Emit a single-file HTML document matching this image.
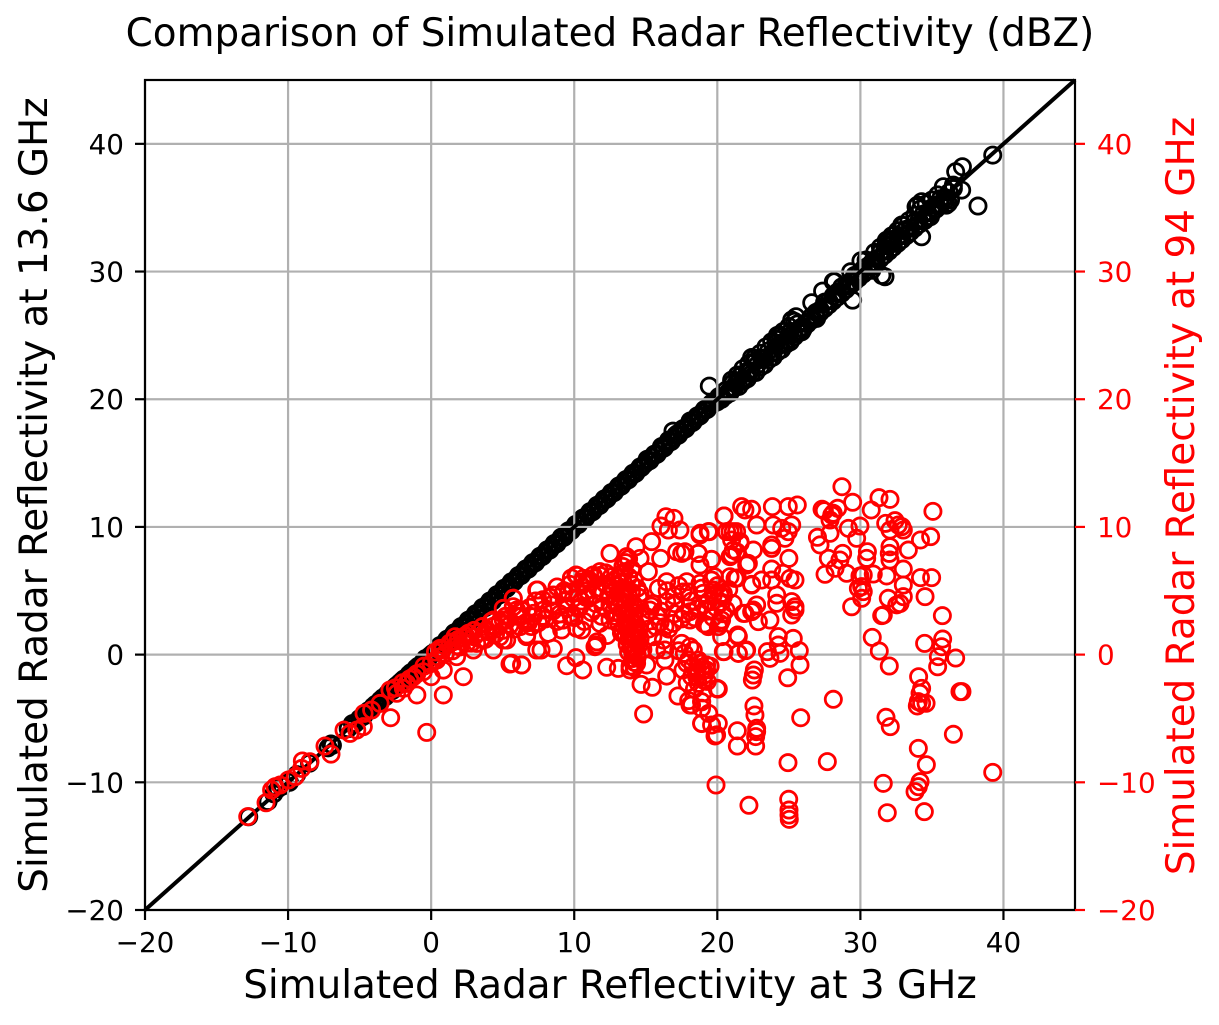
<!DOCTYPE html>
<html lang="en">
<head>
<meta charset="utf-8">
<title>Comparison of Simulated Radar Reflectivity (dBZ)</title>
<style>
html,body{margin:0;padding:0;background:#fff;}
svg{display:block;}
text{font-family:"DejaVu Sans","Liberation Sans",sans-serif;}
</style>
</head>
<body>
<svg id="chart" xmlns="http://www.w3.org/2000/svg" width="1219" height="1025" viewBox="0 0 1219 1025">
  <rect x="0" y="0" width="1219" height="1025" fill="#fff"/>
  <g id="black-series"></g>
  <g id="grid"></g>
  <g id="identity"></g>
  <g id="red-series"></g>
  <rect x="145" y="80" width="930" height="830" fill="none" stroke="#000" stroke-width="2.2"/>
  <g id="ticks"></g>
  <text x="610" y="46" font-size="38.9" text-anchor="middle" fill="#000">Comparison of Simulated Radar Reflectivity (dBZ)</text>
  <text x="610" y="998" font-size="38.9" text-anchor="middle" fill="#000">Simulated Radar Reflectivity at 3 GHz</text>
  <text transform="translate(47,495) rotate(-90)" font-size="38.9" text-anchor="middle" fill="#000">Simulated Radar Reflectivity at 13.6 GHz</text>
  <text transform="translate(1194,496) rotate(-90)" font-size="38.9" text-anchor="middle" fill="#f00">Simulated Radar Reflectivity at 94 GHz</text>
</svg>
<script>
const xTicks = [-20, -10, 0, 10, 20, 30, 40];
const yTicks = [-20, -10, 0, 10, 20, 30, 40];
const axisDomain = [-20, 45];

const blackX = [
-12.75,-11.4,-11.0,-10.7,-10.4,-9.9,-9.4,-8.5,-7.2,-7.0,-6.9,-5.8,-5.5,-5.3,
-5.0,-4.7,-4.4,-4.2,-3.9,-3.7,-3.4,-3.2,-2.9,-2.7,
-2.4,-2.2,-1.9,-1.7,-1.4,-1.2,-0.9,-0.7,-0.4,-0.2,
0.1,0.3,0.6,0.8,1.1,1.3,1.6,1.8,2.1,2.3,
2.6,2.8,3.1,3.3,3.6,3.8,4.1,4.3,4.6,4.8,
5.1,5.3,5.6,5.8,6.1,6.3,6.6,6.8,7.1,7.3,
7.6,7.8,8.1,8.3,8.6,8.8,9.1,9.3,9.6,9.8,
10.1,10.3,10.6,10.8,11.1,11.3,11.6,11.8,12.1,12.3,
12.6,12.8,13.1,13.3,13.6,13.8,14.1,14.3,14.6,14.8,
15.1,15.3,15.6,15.8,16.1,16.3,16.6,16.8,17.1,17.3,
17.6,17.8,18.1,18.3,18.6,18.8,19.1,19.3,19.6,19.8,
20.1,20.3,20.6,20.8,21.1,21.3,21.6,21.8,22.1,22.3,
22.6,22.8,23.1,23.3,23.6,23.8,24.1,24.3,24.6,24.8,
25.1,25.3,25.6,25.8,26.2,26.6,26.9,27.2,27.5,27.8,
28.1,28.4,28.7,29.0,29.3,29.6,29.9,30.2,30.5,30.8,
31.1,31.4,31.7,32.0,32.3,32.6,32.9,33.2,33.5,33.8,
34.1,34.4,34.7,35.0,35.3,35.6,35.9,36.2,36.5,
19.44,22.4,22.7,24.1,24.4,24.7,25.5,25.9,25.2,26.6,26.94,27.36,28.11,29.32,29.46,30.04,30.4,31.72,31.84,32.0,32.2,
32.89,33.1,33.89,34.28,34.28,34.5,35.8,36.15,36.5,36.66,37.08,37.13,38.22,39.25,
16.9,17.2,28.2,28.4,30.8,31.5,34.0,34.9,36.0,36.3,
-4.85,-4.55,-4.3,-4.05,-3.8,-3.55,-3.3,-3.05,-2.8,-2.55,-2.3,-2.05,-1.8,-1.55,-1.3,-1.05,-0.8,-0.55,-0.3,-0.05,
0.2,0.45,0.7,0.95,1.2,1.45,1.7,1.95,2.2,2.45,2.7,2.95,3.2,3.45,3.7,3.95,4.2,4.45,4.7,4.95,
5.2,5.45,5.7,5.95,6.2,6.45,6.7,6.95,7.2,7.45,7.7,7.95,8.2,8.45,8.7,8.95,9.2,9.45,9.7,9.95,
10.2,10.45,10.7,10.95,11.2,11.45,11.7,11.95,12.2,12.45,12.7,12.95,13.2,13.45,13.7,13.95,14.2,14.45,14.7,14.95,
15.2,15.45,15.7,15.95,16.2,16.45,16.7,16.95,17.2,17.45,17.7,17.95,18.2,18.45,18.7,18.95,19.2,19.45,19.7,19.95,
20.0,20.3,20.6,20.9,21.2,21.5,21.8,22.1,22.4,22.7,23.0,23.3,23.6,23.9,24.2,24.5,24.8,25.1,25.4,25.7,
26.0,26.3,26.6,26.9,27.2,27.5,27.8,28.1,28.4,28.7,29.0,29.3,29.6,29.9,30.2,30.5,30.8,31.1,31.4,31.7,
32.0,32.3,32.6,32.9,33.2,33.5,33.8,34.1,34.4,34.7,35.0,35.3,35.6,35.9,
21.0,21.4,21.8,22.2,22.6,23.0,23.4,23.8,24.2,24.6,25.0,25.4,31.0,31.4,31.8,32.2,32.6,33.0,33.4,33.8,34.2,34.6,35.0,35.4
];
const blackY = [
-12.7,-11.5,-10.9,-10.5,-10.3,-10.0,-9.4,-8.5,-7.3,-7.0,-7.1,-5.8,-5.4,-5.4,
-5.0,-4.8,-4.4,-4.3,-3.9,-3.8,-3.4,-3.3,-2.9,-2.8,
-2.4,-2.2,-1.9,-1.8,-1.4,-1.3,-0.9,-0.8,-0.3,-0.3,
0.1,0.2,0.7,0.7,1.2,1.2,1.7,1.7,2.2,2.2,
2.7,2.7,3.2,3.2,3.7,3.7,4.2,4.2,4.7,4.7,
5.2,5.2,5.7,5.7,6.2,6.2,6.7,6.7,7.2,7.2,
7.7,7.7,8.2,8.2,8.7,8.7,9.2,9.2,9.7,9.7,
10.2,10.2,10.7,10.7,11.2,11.2,11.7,11.7,12.2,12.2,
12.7,12.7,13.2,13.2,13.7,13.7,14.2,14.2,14.7,14.8,
15.3,15.2,15.7,15.7,16.3,16.2,16.8,16.7,17.2,17.2,
17.7,17.7,18.3,18.2,18.7,18.7,19.2,19.2,19.7,19.7,
20.2,20.2,20.7,20.6,21.3,21.2,21.8,21.6,22.2,22.2,
22.9,22.7,23.2,23.2,23.8,23.6,24.4,24.2,24.9,24.6,
25.3,25.1,25.9,25.6,26.0,26.5,26.8,27.0,27.6,27.7,
28.1,28.3,28.8,28.9,29.2,29.7,29.8,30.2,30.4,30.7,
31.0,31.5,31.6,32.1,32.2,32.7,32.8,33.3,33.4,33.9,
34.0,34.5,34.6,35.0,35.2,35.7,35.8,36.2,36.5,
21.03,23.27,23.0,24.7,25.0,24.4,26.46,25.28,26.2,27.56,26.33,28.47,29.2,29.98,27.76,30.84,30.9,29.59,32.46,32.5,32.4,
33.64,33.2,35.07,35.47,32.72,34.0,36.64,35.34,36.77,37.82,36.38,38.21,35.13,39.12,
17.5,17.3,29.2,28.4,30.1,29.7,35.2,34.3,35.2,35.6,
-4.9,-4.55,-4.35,-4.05,-3.85,-3.55,-3.35,-3.05,-2.85,-2.55,-2.35,-2.05,-1.85,-1.55,-1.35,-1.05,-0.85,-0.55,-0.35,-0.05,
0.15,0.45,0.65,0.95,1.15,1.45,1.65,1.95,2.15,2.45,2.65,2.95,3.15,3.45,3.65,3.95,4.15,4.45,4.65,4.95,
5.15,5.45,5.65,5.95,6.15,6.45,6.65,6.95,7.15,7.45,7.65,7.95,8.15,8.45,8.65,8.95,9.15,9.45,9.65,9.95,
10.15,10.45,10.65,10.95,11.15,11.45,11.65,11.95,12.15,12.45,12.65,12.95,13.15,13.45,13.65,13.95,14.15,14.45,14.65,14.95,
15.15,15.45,15.65,15.95,16.15,16.45,16.65,16.95,17.15,17.45,17.65,17.95,18.15,18.45,18.65,18.95,19.15,19.45,19.65,19.95,
19.8,20.0,20.3,20.5,20.9,21.0,21.4,21.6,22.0,22.1,22.5,22.7,23.1,23.3,23.7,23.9,24.3,24.5,24.9,25.2,
25.5,25.9,26.2,26.5,26.8,27.1,27.4,27.7,28.0,28.3,28.6,28.9,29.2,29.5,29.8,30.1,30.4,30.7,31.0,31.3,
31.6,31.9,32.2,32.5,32.8,33.1,33.4,33.7,34.0,34.3,34.6,34.9,35.2,35.5,
21.5,21.9,22.4,22.8,23.2,23.6,24.1,24.5,25.0,25.3,25.7,26.1,31.5,31.9,32.4,32.8,33.2,33.6,34.0,34.4,34.9,35.3,35.6,36.0
];

const redX = [
-12.82,-11.54,-11.15,-10.91,-10.56,-9.98,-9.5,-9.0,-9.05,-8.47,-7.42,-7.0,-6.09,-5.67,-5.2,-4.74,-4.69,-4.16,-3.57,-2.83,
-2.88,-2.41,-1.94,-1.0,-1.24,-0.31,0.0,0.85,2.25,0.62,0.85,1.67,2.6,2.95,4.35,5.51,6.33,5.74,5.04,7.38,
3.88,5.28,6.68,7.38,5.98,1.78,0.39,-0.55,-1.71,3.18,4.35,7.14,
-2.5,-2.0,-1.5,-1.0,-0.5,0.0,0.5,1.0,1.5,2.0,2.5,3.0,3.5,4.0,4.5,5.0,5.5,6.0,6.6,7.0,
7.5,8.0,8.5,9.0,9.5,7.8,8.4,9.3,6.9,6.3,5.2,4.8,4.2,3.6,3.0,2.4,1.9,1.5,
10.5,11.0,11.5,12.0,12.4,12.8,12.6,12.2,11.6,10.9,10.3,11.2,11.9,12.7,
5.63,6.32,7.68,8.54,9.47,10.12,10.59,12.27,13.08,11.57,11.45,13.9,15.06,14.36,16.34,16.34,16.23,15.76,14.36,
12.5,14.32,15.41,13.66,14.6,16.04,15.18,16.41,16.97,16.06,17.39,16.58,18.79,19.44,20.47,17.16,17.74,17.51,18.67,19.6,18.79,
20.89,21.35,21.12,21.59,20.89,22.05,10.12,10.63,11.8,11.33,11.1,7.44,5.74,5.74,8.54,9.24,9.94,16.46,15.88,17.86,18.79,19.72,20.42,
18.09,18.09,19.25,20.19,21.47,20.42,21.47,22.05,21.82,22.52,22.4,15.29,16.46,16.34,16.93,17.51,18.09,17.86,18.79,19.25,18.21,18.67,
5.04,5.04,6.67,8.19,9.12,10.17,10.52,11.8,7.14,6.21,7.84,10.4,12.5,
14.85,14.67,15.46,16.46,17.25,18.09,18.91,18.91,20.0,
16.5,17.0,17.6,18.2,18.6,19.0,19.4,19.9,20.3,20.6,15.5,15.8,16.0,15.2,15.5,17.0,17.5,
13.0,13.2,13.4,13.3,13.5,13.6,13.4,13.7,13.6,13.8,13.7,13.9,13.8,14.0,14.0,14.1,14.1,14.2,14.1,14.2,
14.0,14.1,13.9,13.9,13.8,13.6,13.4,13.2,13.3,13.1,13.5,13.6,13.7,13.8,14.3,14.3,14.4,14.4,14.3,14.2,
14.1,14.0,14.0,13.8,13.5,13.9,14.2,14.5,14.4,14.6,
28.71,29.46,31.3,32.07,30.76,35.07,27.32,27.48,28.41,28.0,28.1,27.88,31.77,32.42,32.65,32.9,33.0,32.07,29.97,29.16,
29.74,27.88,27.0,27.18,34.2,34.91,33.35,32.07,32.02,32.07,30.49,30.44,28.76,27.76,28.57,28.23,27.53,29.04,29.97,30.2,
30.9,31.84,33.0,34.2,34.98,33.0,33.0,32.77,32.54,34.52,31.95,30.09,30.2,29.86,30.09,29.39,31.49,31.6,35.73,30.83,
31.32,32.02,34.49,35.75,35.68,35.45,36.66,35.4,34.07,
21.7,21.93,22.4,23.85,24.96,25.59,20.47,22.75,23.91,24.5,25.2,24.96,24.73,18.79,19.37,20.65,21.12,21.0,21.6,22.52,
23.8,23.8,21.0,21.35,25.0,19.6,18.67,22.17,21.24,20.89,23.8,24.6,25.08,25.43,23.1,23.8,22.4,19.6,20.19,19.72,
20.42,19.02,24.15,24.15,22.75,22.4,21.93,22.87,23.68,25.2,25.43,25.43,25.2,19.37,20.07,20.3,20.3,21.42,24.26,25.31,
20.47,21.47,22.0,23.5,23.68,24.26,24.38,25.73,25.78,24.92,22.59,22.52,22.45,20.0,28.11,18.67,19.02,19.25,18.56,19.02,18.32,
37.1,36.96,25.83,34.28,34.17,34.05,34.59,34.28,33.98,31.79,32.09,36.5,34.05,34.61,39.25,27.69,24.94,34.17,34.05,33.82,
31.6,31.88,34.47,19.91,22.21,24.99,25.01,25.01,25.03,22.56,22.63,22.75,22.75,22.68,22.68,21.4,21.4,20.07,18.9,19.6,
19.95,19.84,20.07,18.9,18.9,18.2,
0.3,0.8,1.3,1.8,2.3,2.8,3.3,3.8,4.3,4.8,5.3,5.8,6.3,6.8,7.3,7.8,8.3,8.8,9.3,9.8,
9.8,10.2,10.6,11.0,11.4,11.8,12.2,12.6,9.6,10.8,11.4,12.0,12.5,9.2,10.0,10.7,11.6,12.3,8.8,9.7,
12.8,12.9,13.1,13.3,14.5,14.6,14.7,14.5,14.6,14.8,12.9,13.0,13.2,13.4,13.6,13.8,14.0,14.2,14.4,14.6,
15.0,15.4,15.7,16.1,16.6,17.0,17.3,17.7,18.0,18.4,18.9,19.3,19.7,20.0,20.4,20.8,21.1,21.4,19.1,19.8,
17.3,17.7,18.0,18.3,18.6,18.9,19.1,19.3,19.5,18.4,18.0,17.9,17.6,19.0,19.4
];
const redY = [
-12.69,-11.6,-10.6,-10.35,-10.21,-9.82,-9.56,-8.33,-8.91,-8.39,-7.16,-7.79,-5.91,-6.17,-5.91,-5.64,-4.6,-4.34,-3.82,-4.94,
-2.77,-3.03,-2.64,-3.16,-1.73,-6.09,-1.73,-3.16,-1.73,0.49,-1.21,1.4,1.67,0.36,0.36,-0.74,-0.81,4.41,3.62,5.06,
1.93,1.14,1.54,0.36,3.49,-0.16,-0.42,-1.34,-2.25,0.88,2.71,2.97,
-2.6,-2.2,-1.9,-1.5,-0.9,-0.7,-0.2,0.1,0.3,0.6,0.9,1.4,1.2,1.8,1.6,1.9,2.3,3.0,2.5,2.2,
2.5,2.8,3.4,3.2,3.6,4.3,3.9,4.2,3.7,3.5,3.0,2.6,2.6,2.2,1.9,1.5,1.2,1.0,
4.2,4.4,4.0,3.8,4.6,4.2,5.2,5.5,5.2,5.0,3.6,3.3,3.0,3.3,
-0.68,-0.81,0.36,0.49,-0.87,-0.24,-1.2,-0.99,-1.08,0.75,0.62,-1.2,-0.81,-0.68,-0.42,0.36,1.14,0.36,-0.16,
7.93,8.45,8.85,7.67,7.54,7.54,6.5,10.8,10.67,10.07,9.76,9.76,9.5,9.63,10.86,8.06,8.06,7.93,7.93,7.46,7.02,
9.63,9.63,8.19,8.85,7.67,7.02,6.24,5.97,6.5,6.24,5.71,5.06,4.41,3.75,4.67,4.8,4.41,5.71,5.19,5.71,5.58,5.06,4.54,
3.36,2.71,2.32,2.45,1.41,0.23,0.1,0.36,3.23,3.49,5.45,3.49,4.15,2.19,2.45,0.88,0.62,-0.68,-0.68,-1.2,-1.73,-2.25,
1.14,2.71,1.41,1.67,1.93,2.06,1.93,2.45,3.23,2.19,3.49,3.75,2.71,
-4.65,-2.33,-2.56,-1.68,-3.24,-3.95,-3.69,-5.4,-2.64,
5.0,4.6,4.9,4.2,3.6,4.8,4.2,3.7,4.1,3.5,4.0,3.0,2.5,2.0,1.4,3.2,2.8,
6.0,5.6,5.2,4.8,4.4,4.0,3.6,3.2,2.8,2.4,2.0,1.6,1.2,0.9,0.5,0.1,-0.3,-0.6,1.4,1.9,
2.5,3.0,3.5,4.1,4.6,5.1,5.7,4.3,3.1,3.7,2.2,1.5,0.8,0.2,1.1,0.4,-0.2,1.7,2.4,3.3,
4.0,4.9,5.5,6.1,6.5,-0.9,-1.0,0.7,0.0,1.3,
13.15,11.93,12.29,12.16,11.33,11.22,11.38,11.27,11.46,10.93,11.07,10.54,10.28,10.49,10.15,10.02,9.76,9.76,10.07,9.89,
9.11,9.5,9.19,8.59,8.98,9.24,8.19,8.45,7.93,7.41,8.06,7.54,7.93,7.54,7.41,6.76,6.29,6.37,6.16,6.24,
6.31,6.16,6.7,6.03,6.03,5.45,4.54,4.0,3.9,4.54,4.41,5.32,4.93,5.19,4.41,3.75,3.05,3.1,3.05,1.35,
0.28,-0.89,0.88,1.22,0.62,-0.16,-0.27,-0.95,-1.73,
11.59,11.33,11.38,11.59,11.59,11.72,10.86,10.15,10.15,9.89,10.15,9.63,9.11,9.37,9.63,9.63,9.63,8.98,8.72,8.19,
8.32,8.58,7.8,8.06,7.54,7.46,7.93,7.15,5.97,6.1,6.7,6.37,5.97,5.84,5.84,5.84,5.5,5.84,4.67,4.67,
4.8,3.89,4.67,4.02,3.89,3.36,3.23,2.58,2.71,4.15,3.75,3.49,3.1,2.19,2.19,2.71,1.41,1.54,1.41,1.27,
0.23,0.1,0.31,0.23,-0.29,0.75,0.1,0.31,-0.81,-1.81,-1.2,-1.6,-1.99,-2.69,-3.5,-0.42,-1.2,-0.81,-1.73,-1.99,0.36,
-2.9,-2.9,-4.94,-2.64,-3.03,-3.68,-3.81,-3.81,-4.02,-4.91,-5.64,-6.24,-7.34,-8.62,-9.22,-8.38,-8.46,-9.95,-10.34,-10.73,
-10.08,-12.38,-12.3,-10.21,-11.8,-11.33,-12.17,-12.56,-12.9,-4.02,-4.73,-5.77,-6.03,-6.42,-7.16,-5.96,-7.16,-5.38,-5.38,-5.51,
-6.29,-6.37,-2.69,-4.2,-3.68,-3.95,
0.2,0.4,0.9,0.7,1.3,0.9,1.7,1.2,2.2,1.4,2.7,2.0,3.0,2.5,4.2,3.0,4.5,2.6,5.0,3.0,
6.0,6.2,5.7,5.9,6.0,6.2,6.4,6.1,4.9,4.5,4.7,4.8,3.9,2.7,2.9,2.6,1.0,1.5,5.3,5.5,
5.0,4.0,2.5,1.7,4.5,3.6,2.8,2.0,1.2,0.4,3.0,5.4,6.3,6.9,7.2,7.5,6.7,5.8,5.2,4.8,
3.0,3.8,2.2,3.4,2.0,4.0,5.4,3.2,4.9,2.9,5.2,3.4,2.9,5.4,3.2,5.1,4.0,6.0,2.4,6.1,
0.3,0.1,-0.4,-0.9,-1.4,-1.0,-1.6,-2.1,-0.9,-2.7,-3.6,-2.2,-1.2,-3.0,-4.6
];

const SVG_NS = 'http://www.w3.org/2000/svg';
function xScale(v) { return 145 + (v - axisDomain[0]) / (axisDomain[1] - axisDomain[0]) * 930; }
function yScale(v) { return 910 - (v - axisDomain[0]) / (axisDomain[1] - axisDomain[0]) * 830; }
function fmt(v) { return v < 0 ? '\u2212' + Math.abs(v) : String(v); }

function drawCircles(parentId, xs, ys, color, name) {
  const parent = document.getElementById(parentId);
  const n = Math.min(xs.length, ys.length);
  for (let i = 0; i < n; i++) {
    const c = document.createElementNS(SVG_NS, 'circle');
    c.setAttribute('cx', xScale(xs[i]).toFixed(2));
    c.setAttribute('cy', yScale(ys[i]).toFixed(2));
    c.setAttribute('r', '8.1');
    c.setAttribute('fill', 'none');
    c.setAttribute('stroke', color);
    c.setAttribute('stroke-width', '2.8');
    
    
    parent.appendChild(c);
  }
}

function drawLine(parent, x1, y1, x2, y2, color, width, name) {
  const l = document.createElementNS(SVG_NS, 'line');
  l.setAttribute('x1', x1);
  l.setAttribute('y1', y1);
  l.setAttribute('x2', x2);
  l.setAttribute('y2', y2);
  l.setAttribute('stroke', color);
  l.setAttribute('stroke-width', width);
  
  
  parent.appendChild(l);
}

function drawLabel(parent, x, y, str, color, anchor, name) {
  const t = document.createElementNS(SVG_NS, 'text');
  t.setAttribute('x', x);
  t.setAttribute('y', y);
  t.setAttribute('font-size', '27.8');
  t.setAttribute('fill', color);
  t.setAttribute('text-anchor', anchor);
  
  
  t.textContent = str;
  parent.appendChild(t);
}

drawCircles('black-series', blackX, blackY, '#000', 'point-13-6-ghz');

const gridGroup = document.getElementById('grid');
xTicks.forEach(function (v) {
  drawLine(gridGroup, xScale(v), 80, xScale(v), 910, '#b0b0b0', 2.2, 'x-grid-line');
});
yTicks.forEach(function (v) {
  drawLine(gridGroup, 145, yScale(v), 1075, yScale(v), '#b0b0b0', 2.2, 'y-grid-line');
});

const identityGroup = document.getElementById('identity');
drawLine(identityGroup, xScale(axisDomain[0]), yScale(axisDomain[0]), xScale(axisDomain[1]), yScale(axisDomain[1]), '#000', 4, 'identity-line');

drawCircles('red-series', redX, redY, '#f00', 'point-94-ghz');

const tickGroup = document.getElementById('ticks');
xTicks.forEach(function (v) {
  drawLine(tickGroup, xScale(v), 910, xScale(v), 920, '#000', 2.2, 'x-tick');
  drawLabel(tickGroup, xScale(v), 952, fmt(v), '#000', 'middle', 'x-tick-label');
});
yTicks.forEach(function (v) {
  drawLine(tickGroup, 135, yScale(v), 145, yScale(v), '#000', 2.2, 'left-y-tick');
  drawLabel(tickGroup, 124, yScale(v) + 10, fmt(v), '#000', 'end', 'left-y-tick-label');
  drawLine(tickGroup, 1075, yScale(v), 1085, yScale(v), '#f00', 2.2, 'right-y-tick');
  drawLabel(tickGroup, 1097, yScale(v) + 10, fmt(v), '#f00', 'start', 'right-y-tick-label');
});
</script>
</body>
</html>
